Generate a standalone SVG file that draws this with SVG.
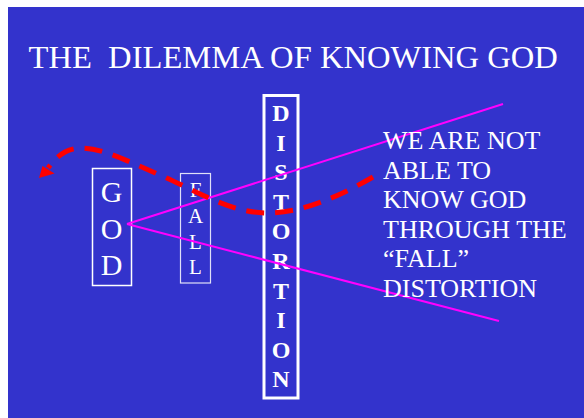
<svg xmlns="http://www.w3.org/2000/svg" width="584" height="418" viewBox="0 0 584 418">
<style>
.t{fill:#fff}
.box{fill:none;stroke:#fff}
.mag{stroke:#ff00ff;stroke-width:2;fill:none}
</style>
<rect x="0" y="0" width="584" height="418" fill="#fff"/>
<rect x="8" y="7" width="576" height="411" fill="#3333cc"/>
<g font-family="'Liberation Serif', 'Times New Roman', serif">
<text class="t" x="28.5" y="68" font-size="32.6" xml:space="preserve">THE  DILEMMA OF KNOWING GOD</text>
<g id="god">
<rect class="box" x="92.5" y="168.5" width="39" height="117" stroke-width="1.5"/>
<g class="t" font-size="30" text-anchor="middle">
<text x="111.5" y="202">G</text>
<text x="111.5" y="238.5">O</text>
<text x="111.5" y="275">D</text>
</g>
</g>
<g id="fall">
<rect class="box" x="180.5" y="173.5" width="30" height="109.5" stroke-width="1.2" stroke-opacity="0.85"/>
<g class="t" font-size="21" text-anchor="middle">
<text x="195.5" y="197">F</text>
<text x="195.5" y="223">A</text>
<text x="195.5" y="248.5">L</text>
<text x="195.5" y="274">L</text>
</g>
</g>
<g id="distortion">
<rect class="box" x="264" y="95.5" width="34" height="302.5" stroke-width="3"/>
<g class="t" font-size="24" font-weight="bold" text-anchor="middle">
<text x="281" y="121">D</text>
<text x="281" y="150.6">I</text>
<text x="281" y="180.2">S</text>
<text x="281" y="209.8">T</text>
<text x="281" y="239.4">O</text>
<text x="281" y="269">R</text>
<text x="281" y="298.6">T</text>
<text x="281" y="328.2">I</text>
<text x="281" y="357.8">O</text>
<text x="281" y="387.4">N</text>
</g>
</g>
<g id="connectors">
<line class="mag" x1="127" y1="224" x2="503" y2="104"/>
<line class="mag" x1="127" y1="224" x2="499" y2="321"/>
<path d="M373,177 C340,196 300,214 265,213 C228,212 195,190 160,175 C120,158 88,140 65,152 C58,156 53,161 48,168" fill="none" stroke="#ff0000" stroke-width="5" stroke-dasharray="18,11"/>
<polygon points="39,178 42.5,166 54.5,173.5" fill="#ff0000"/>
</g>
<g id="statement" class="t" font-size="26">
<text x="383" y="149">WE ARE NOT</text>
<text x="383" y="178.5">ABLE TO</text>
<text x="383" y="208">KNOW GOD</text>
<text x="383" y="237.5">THROUGH THE</text>
<text x="383" y="267">“FALL”</text>
<text x="383" y="296.5">DISTORTION</text>
</g>
</g>
</svg>
